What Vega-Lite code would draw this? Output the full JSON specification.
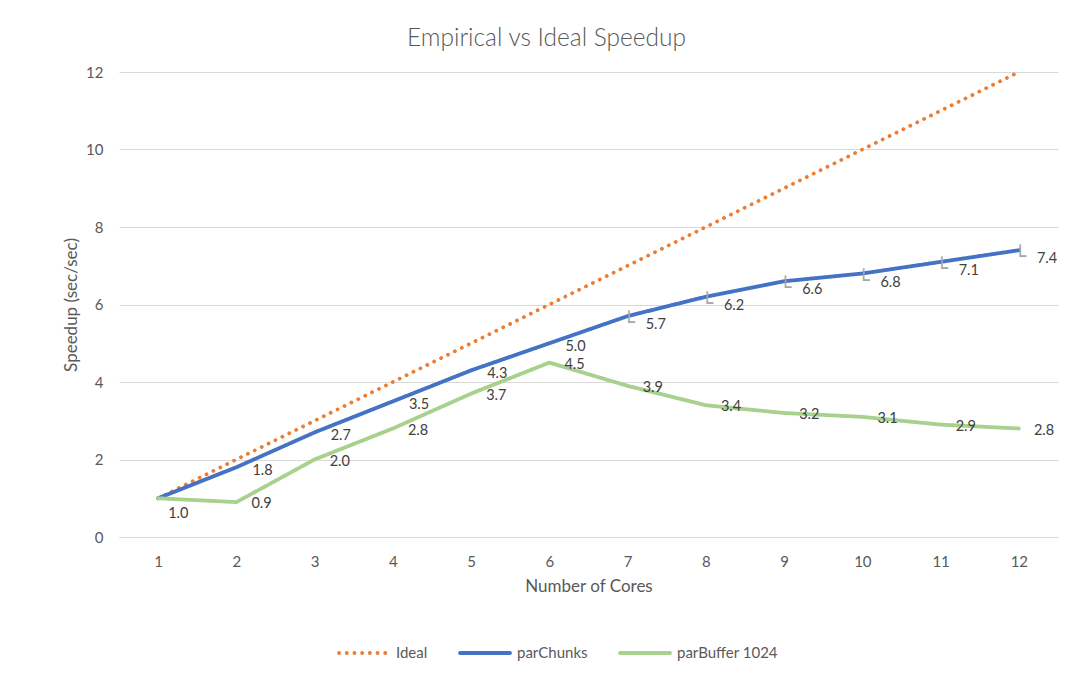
{
  "$schema": "https://vega.github.io/schema/vega-lite/v6.json",
  "width": 939,
  "height": 465,
  "autosize": "none",
  "padding": {"left": 119, "top": 72, "right": 18, "bottom": 140},
  "background": "white",
  "title": {
    "text": "Empirical vs Ideal Speedup",
    "anchor": "middle",
    "dx": -42,
    "offset": 14,
    "font": "Lato",
    "fontSize": 24.5,
    "fontWeight": 300,
    "color": "#595959"
  },
  "data": {
    "values": [
      {"cores": 1, "series": "Ideal", "speedup": 1},
      {"cores": 2, "series": "Ideal", "speedup": 2},
      {"cores": 3, "series": "Ideal", "speedup": 3},
      {"cores": 4, "series": "Ideal", "speedup": 4},
      {"cores": 5, "series": "Ideal", "speedup": 5},
      {"cores": 6, "series": "Ideal", "speedup": 6},
      {"cores": 7, "series": "Ideal", "speedup": 7},
      {"cores": 8, "series": "Ideal", "speedup": 8},
      {"cores": 9, "series": "Ideal", "speedup": 9},
      {"cores": 10, "series": "Ideal", "speedup": 10},
      {"cores": 11, "series": "Ideal", "speedup": 11},
      {"cores": 12, "series": "Ideal", "speedup": 12},
      {"cores": 1, "series": "parChunks", "speedup": 1.0},
      {"cores": 2, "series": "parChunks", "speedup": 1.8},
      {"cores": 3, "series": "parChunks", "speedup": 2.7},
      {"cores": 4, "series": "parChunks", "speedup": 3.5},
      {"cores": 5, "series": "parChunks", "speedup": 4.3},
      {"cores": 6, "series": "parChunks", "speedup": 5.0},
      {"cores": 7, "series": "parChunks", "speedup": 5.7},
      {"cores": 8, "series": "parChunks", "speedup": 6.2},
      {"cores": 9, "series": "parChunks", "speedup": 6.6},
      {"cores": 10, "series": "parChunks", "speedup": 6.8},
      {"cores": 11, "series": "parChunks", "speedup": 7.1},
      {"cores": 12, "series": "parChunks", "speedup": 7.4},
      {"cores": 1, "series": "parBuffer 1024", "speedup": 1.0},
      {"cores": 2, "series": "parBuffer 1024", "speedup": 0.9},
      {"cores": 3, "series": "parBuffer 1024", "speedup": 2.0},
      {"cores": 4, "series": "parBuffer 1024", "speedup": 2.8},
      {"cores": 5, "series": "parBuffer 1024", "speedup": 3.7},
      {"cores": 6, "series": "parBuffer 1024", "speedup": 4.5},
      {"cores": 7, "series": "parBuffer 1024", "speedup": 3.9},
      {"cores": 8, "series": "parBuffer 1024", "speedup": 3.4},
      {"cores": 9, "series": "parBuffer 1024", "speedup": 3.2},
      {"cores": 10, "series": "parBuffer 1024", "speedup": 3.1},
      {"cores": 11, "series": "parBuffer 1024", "speedup": 2.9},
      {"cores": 12, "series": "parBuffer 1024", "speedup": 2.8}
    ]
  },
  "encoding": {
    "x": {
      "field": "cores",
      "type": "ordinal",
      "title": "Number of Cores",
      "axis": {
        "labelAngle": 0,
        "ticks": false,
        "domainColor": "#d9d9d9",
        "domainWidth": 1,
        "labelPadding": 17,
        "titlePadding": 9
      }
    },
    "y": {
      "field": "speedup",
      "type": "quantitative",
      "title": "Speedup (sec/sec)",
      "scale": {"domain": [0, 12], "nice": false},
      "axis": {
        "values": [0, 2, 4, 6, 8, 10, 12],
        "domain": false,
        "ticks": false,
        "grid": true,
        "gridColor": "#d9d9d9",
        "gridWidth": 1,
        "labelPadding": 16,
        "titlePadding": 5
      }
    }
  },
  "layer": [
    {
      "mark": {"type": "line", "strokeWidth": 3.8, "strokeCap": "round", "strokeJoin": "round"},
      "encoding": {
        "color": {
          "field": "series",
          "type": "nominal",
          "title": null,
          "scale": {
            "domain": ["Ideal", "parChunks", "parBuffer 1024"],
            "range": ["#ED7D31", "#4472C4", "#A9D18E"]
          },
          "legend": {
            "orient": "none",
            "legendX": 218,
            "legendY": 554,
            "direction": "horizontal",
            "columns": 3,
            "symbolType": "stroke",
            "symbolSize": 2500,
            "symbolStrokeWidth": 3.8,
            "labelOffset": 5,
            "columnPadding": 24,
            "labelFont": "Lato",
            "labelFontSize": 15,
            "labelColor": "#595959",
            "encode": {"symbols": {"update": {"strokeCap": {"value": "round"}}}}
          }
        },
        "strokeDash": {
          "field": "series",
          "type": "nominal",
          "title": null,
          "scale": {
            "domain": ["Ideal", "parChunks", "parBuffer 1024"],
            "range": [[0.1, 7.6], [1, 0], [1, 0]]
          }
        }
      }
    },
    {
      "transform": [{"filter": "datum.series === 'parChunks' && datum.cores === 1"}],
      "mark": {"type": "text", "align": "left", "baseline": "middle", "dx": 10, "dy": 16, "font": "Lato", "fontSize": 14.5, "color": "#404040"},
      "encoding": {"text": {"field": "speedup", "type": "quantitative", "format": ".1f"}}
    },
    {
      "transform": [{"filter": "datum.series === 'parChunks' && datum.cores >= 2 && datum.cores <= 6"}],
      "mark": {"type": "text", "align": "left", "baseline": "middle", "dx": 16, "dy": 4, "font": "Lato", "fontSize": 14.5, "color": "#404040"},
      "encoding": {"text": {"field": "speedup", "type": "quantitative", "format": ".1f"}}
    },
    {
      "transform": [{"filter": "datum.series === 'parChunks' && datum.cores >= 7"}],
      "mark": {"type": "text", "align": "left", "baseline": "middle", "dx": 18, "dy": 9, "font": "Lato", "fontSize": 14.5, "color": "#404040"},
      "encoding": {"text": {"field": "speedup", "type": "quantitative", "format": ".1f"}}
    },
    {
      "transform": [{"filter": "datum.series === 'parChunks' && datum.cores >= 7"}],
      "mark": {"type": "text", "align": "left", "baseline": "top", "dx": -5, "dy": -3, "font": "DejaVu Sans", "fontSize": 20, "color": "#a6a6a6", "text": "└"},
      "encoding": {}
    },
    {
      "transform": [{"filter": "datum.series === 'parBuffer 1024' && datum.cores >= 2"}],
      "mark": {"type": "text", "align": "left", "baseline": "middle", "dx": 15, "dy": 2, "font": "Lato", "fontSize": 14.5, "color": "#404040"},
      "encoding": {"text": {"field": "speedup", "type": "quantitative", "format": ".1f"}}
    }
  ],
  "config": {
    "view": {"stroke": null},
    "axis": {
      "labelFont": "Lato",
      "labelFontSize": 15,
      "labelColor": "#595959",
      "titleFont": "Lato",
      "titleFontSize": 17,
      "titleFontWeight": "normal",
      "titleColor": "#595959"
    },
    "legend": {"padding": 0, "offset": 0}
  }
}
